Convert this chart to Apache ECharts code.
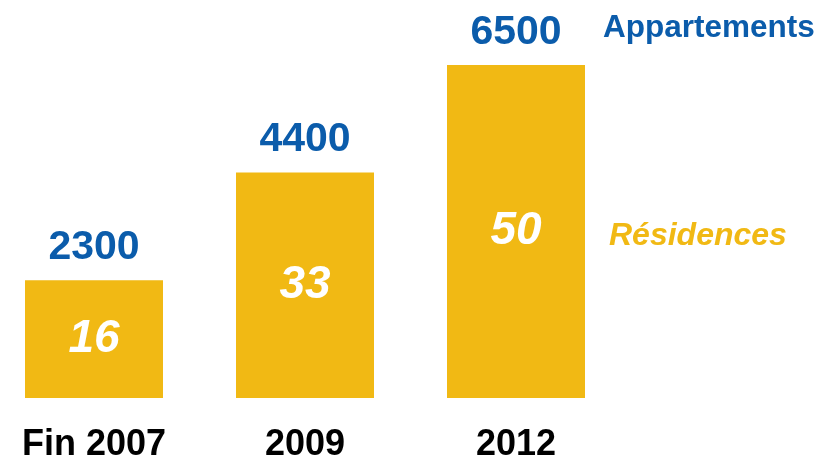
<!DOCTYPE html>
<html>
<head>
<meta charset="utf-8">
<script src="https://cdn.jsdelivr.net/npm/echarts@6/dist/echarts.min.js"></script>
<style>
  html, body { margin: 0; padding: 0; background: #fff; }
  #main { width: 820px; height: 457px; }
</style>
</head>
<body>
<div id="main"></div>
<script>
// données
var annees = ['Fin 2007', '2009', '2012'];
var appartements = [2300, 4400, 6500];
var residences = [16, 33, 50];

var bleu = '#0B5CAB';
var jaune = '#F1B914';
var police = '"Liberation Sans", Arial, sans-serif';

var myChart = echarts.init(document.getElementById('main'));

var option = {
  backgroundColor: '#fff',
  animation: false,
  grid: { left: 94, right: 304, top: 65, bottom: 59, outerBoundsMode: 'none', containLabel: false },
  xAxis: {
    type: 'category',
    data: annees,
    boundaryGap: false,
    axisLine: { show: false },
    axisTick: { show: false },
    splitLine: { show: false },
    axisLabel: {
      margin: 29,
      color: '#000',
      fontFamily: police,
      fontWeight: 'bold',
      fontSize: 36
    }
  },
  yAxis: {
    type: 'value',
    min: 0,
    max: 6500,
    show: false
  },
  graphic: [
    {
      type: 'text',
      left: 603,
      top: 12,
      style: {
        text: 'Appartements',
        fill: bleu,
        font: 'bold 31.5px ' + police
      }
    },
    {
      type: 'text',
      left: 609,
      top: 220,
      style: {
        text: 'Résidences',
        fill: jaune,
        font: 'italic bold 32px ' + police
      }
    }
  ],
  series: [
    {
      name: 'Appartements',
      type: 'bar',
      data: appartements,
      barWidth: 138,
      clip: false,
      itemStyle: { color: jaune },
      label: {
        show: true,
        position: 'top',
        distance: 12,
        color: bleu,
        fontFamily: police,
        fontWeight: 'bold',
        fontSize: 41
      }
    },
    {
      name: 'Résidences',
      type: 'bar',
      data: appartements,
      barWidth: 138,
      barGap: '-100%',
      clip: false,
      silent: true,
      itemStyle: { color: 'rgba(0,0,0,0)' },
      label: {
        show: true,
        position: 'inside',
        color: '#fff',
        fontFamily: police,
        fontWeight: 'bold',
        fontStyle: 'italic',
        fontSize: 46,
        formatter: function (p) {
          return residences[p.dataIndex];
        }
      }
    }
  ]
};

myChart.setOption(option);
</script>
</body>
</html>
